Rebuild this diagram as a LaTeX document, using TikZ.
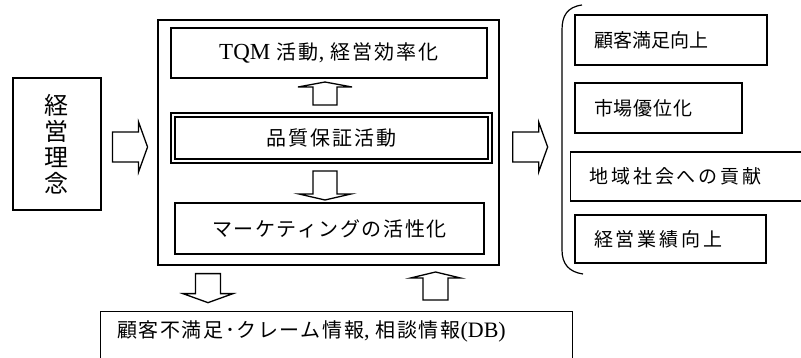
\documentclass[tikz,border=0pt]{standalone}
\usepackage{fontspec}
\usetikzlibrary{calc}
\newfontfamily\jp{Noto Sans CJK JP}
\newfontfamily\jpd[LetterSpace=5]{Noto Sans CJK JP}
\newfontfamily\jpe[LetterSpace=8]{Noto Sans CJK JP}
\newfontfamily\jpc[LetterSpace=10]{Noto Sans CJK JP}
\newfontfamily\jpa[LetterSpace=15]{Noto Sans CJK JP}
\newfontfamily\lat{Liberation Serif}
\newcommand\fs[1]{\fontsize{#1}{#1}\selectfont}
\newcommand\blockarr[6]{%
  \begin{scope}[shift={#1}, rotate=#2]
    \draw[arr] (0,-#5) -- (#3,-#5) -- (#3,-#6) -- ({#3+#4},0) -- (#3,#6) -- (#3,#5) -- (0,#5) -- cycle;
  \end{scope}}
\begin{document}
\begin{tikzpicture}[x=1pt,y=-1pt,
  box/.style={draw, line width=1.1pt, inner sep=0pt},
  arr/.style={draw, line width=1.3pt, fill=white, line join=miter},
  rbox/.style={box, inner xsep=19pt, align=left, minimum height=#1},
]
\useasboundingbox (0,0) rectangle (801,358);
\fill[white] (0,0) rectangle (801,358);

% left box
\node[box, minimum width=88, minimum height=132, align=center,
      font=\jp\fontsize{24}{26}\selectfont] (lbox) at (57,144) {経\\営\\理\\念};

% main box
\node[box, line width=1.3pt, minimum width=341, minimum height=245] (main) at (328.5,142.5) {};
\node[box, minimum width=316, minimum height=50, font=\jpc\fs{20}] (tqm) at (329,53)
  {{\lat\fs{23}TQM} 活動{\lat\fs{22},} 経営効率化};
\node[box, line width=2pt, minimum width=321, minimum height=50] (qa) at (331.5,138) {};
\node[box, minimum width=313, minimum height=42, font=\jpc\fs{20}] (qain) at (qa.center) {品質保証活動};
\node[box, minimum width=309, minimum height=51, font=\jpe\fs{20}] (mkt) at (329.5,228.5) {マーケティングの活性化};

% bottom box
\node[box, minimum width=472, minimum height=48, anchor=north west] (db) at (100,311) {};
\node[font=\jpe\fs{20}, anchor=west, inner sep=0pt] (dbt) at ($(db.north west)+(17,20)$)
  {顧客不満足･クレーム情報{\lat\fs{22},} 相談情報{\lat\fs{22}(DB)}};

% right boxes
\node[rbox=50, text width=154, font=\jp\fs{19}] (r1) at (671,40) {顧客満足向上};
\node[rbox=50, text width=129, font=\jpd\fs{19}] (r2) at (658.5,108) {市場優位化};
\node[rbox=49, text width=205, font=\jpa\fs{19}] (r3) at (692,176.5) {地域社会への貢献};
\node[rbox=48, text width=153, font=\jpa\fs{19}] (r4) at (670.5,239) {経営業績向上};

% bracket
\draw[line width=1.2pt] (582,5) .. controls (567,7) and (562,16) .. (562,30) -- (562,250)
  .. controls (562,264) and (569,272) .. (583,274);

% block arrows
\blockarr{($(lbox.east)+(11,3)$)}{0}{26}{9}{15}{25}
\blockarr{($(main.east)+(13,4.5)$)}{0}{26}{9}{15}{25}
\blockarr{($(qa.north)+(-6.5,-7)$)}{90}{18}{5}{12}{27}
\blockarr{($(qa.south)+(-6.5,7)$)}{-90}{23}{6}{12}{26}
\blockarr{($(main.south)+(-120.5,8)$)}{-90}{20}{9}{12.5}{25}
\blockarr{($(db.north)+(99,-11)$)}{90}{22}{6}{12.5}{25}
\end{tikzpicture}
\end{document}
